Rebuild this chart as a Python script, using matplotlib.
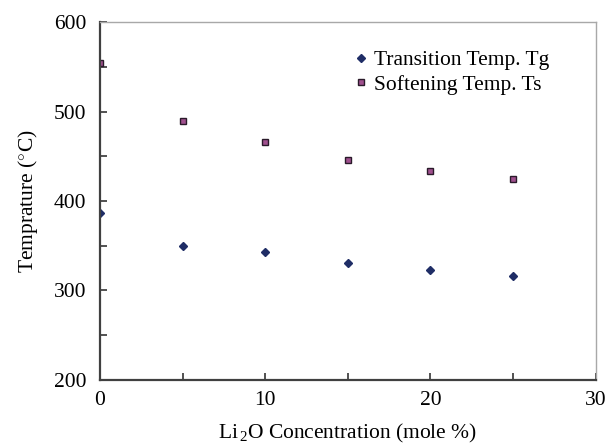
import matplotlib
matplotlib.use("Agg")
import matplotlib.pyplot as plt
from matplotlib.ticker import MultipleLocator

# Li2O content (mole %) and measured temperatures (deg C)
li2o = [0, 5, 10, 15, 20, 25]
tg = [387, 350, 343, 331, 323, 316]
ts = [555, 490, 466, 446, 433, 425]

plt.rcParams["font.family"] = ["Liberation Serif", "DejaVu Serif"]
plt.rcParams["mathtext.fontset"] = "custom"
plt.rcParams["mathtext.rm"] = "Liberation Serif"
plt.rcParams["mathtext.it"] = "Liberation Serif:italic"

FS = 15.5

fig = plt.figure(figsize=(6.09, 4.47), dpi=100)
ax = fig.add_axes([0.1642, 0.151, 0.814, 0.799])

ax.plot(li2o, tg, linestyle="none", marker="D", markersize=4.5,
        color="#1f2d66", markeredgecolor="#1f2d66", label="Transition Temp. Tg")
ax.plot(li2o, ts, linestyle="none", marker="s", markersize=4.8,
        markerfacecolor="#a0508e", markeredgecolor="#2a1a2a", markeredgewidth=1.0,
        label="Softening Temp. Ts")

ax.set_xlim(0, 30)
ax.set_ylim(200, 600)
ax.xaxis.set_major_locator(MultipleLocator(10))
ax.xaxis.set_minor_locator(MultipleLocator(5))
ax.yaxis.set_major_locator(MultipleLocator(100))
ax.yaxis.set_minor_locator(MultipleLocator(50))

ax.tick_params(which="both", direction="in", length=5, width=1.2,
               color="#333333", top=False, right=False)
ax.tick_params(axis="both", which="major", labelsize=FS)
ax.tick_params(axis="y", which="major", pad=10)
ax.tick_params(axis="x", which="major", pad=8)

for side in ("left", "bottom"):
    ax.spines[side].set_color("#404040")
    ax.spines[side].set_linewidth(1.6)
for side in ("top", "right"):
    ax.spines[side].set_color("#a8a8a8")
    ax.spines[side].set_linewidth(1.0)

ax.set_xlabel(r"Li$_{\,2}$O Concentration (mole %)", fontsize=FS, labelpad=9)
ax.set_ylabel(r"Temprature ($^{\circ}$C)", fontsize=FS, labelpad=10)

ax.legend(loc="upper left", bbox_to_anchor=(0.513, 0.922), frameon=False,
          fontsize=FS, handlelength=0.6, handletextpad=0.3,
          labelspacing=0.2, borderaxespad=0.0, borderpad=0.0)

fig.savefig("out.png", dpi=100)
